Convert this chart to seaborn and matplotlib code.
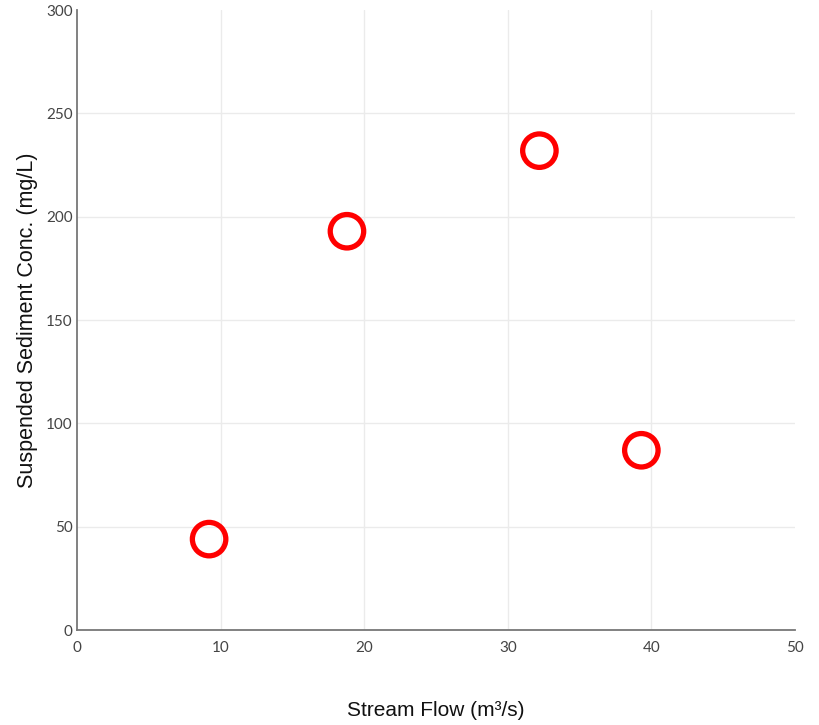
import matplotlib
matplotlib.use("Agg")
import matplotlib.pyplot as plt
import seaborn as sns
import pandas as pd

# Observations: stream flow vs suspended sediment concentration
stream_flow = [9.2, 18.8, 32.2, 39.3]
sediment_conc = [44, 193, 232, 87]

x_ticks = [0, 10, 20, 30, 40, 50]
y_ticks = [0, 50, 100, 150, 200, 250, 300]

df = pd.DataFrame({"flow": stream_flow, "conc": sediment_conc})

sns.set_theme(style="white")
plt.rcParams["font.family"] = ["Liberation Sans", "DejaVu Sans"]

fig = plt.figure(figsize=(8.19, 7.25), dpi=100)
ax = fig.add_axes([0.094, 0.131, 0.8767, 0.855])

sns.scatterplot(data=df, x="flow", y="conc", ax=ax, s=580,
                facecolor="none", edgecolor="#ff0000", linewidth=3.8,
                zorder=3, legend=False)

ax.set_xlim(0, 50)
ax.set_ylim(0, 300)
ax.set_xticks(x_ticks)
ax.set_yticks(y_ticks)
ax.set_xticklabels([str(t) for t in x_ticks], family="Lato", color="#444444", fontsize=11)
ax.set_yticklabels([str(t) for t in y_ticks], family="Lato", color="#444444", fontsize=11)

# light grid on interior ticks only
for t in x_ticks[1:-1]:
    ax.axvline(t, color="#ebebeb", lw=1.0, zorder=0)
for t in y_ticks[1:-1]:
    ax.axhline(t, color="#ebebeb", lw=1.0, zorder=0)

ax.tick_params(axis="x", direction="in", length=7, width=1.2, color="#888888", pad=8)
ax.tick_params(axis="y", length=0, pad=3)
xt = ax.xaxis.get_major_ticks()
xt[0].tick1line.set_visible(False)
xt[-1].tick1line.set_visible(False)

for side in ["top", "right"]:
    ax.spines[side].set_visible(False)
for side in ["left", "bottom"]:
    ax.spines[side].set_color("#777777")
    ax.spines[side].set_linewidth(1.3)

ax.set_xlabel("Stream Flow (m\u00b3/s)", fontsize=15, color="#111111", labelpad=33)
ax.set_ylabel("Suspended Sediment Conc. (mg/L)", fontsize=15.5, color="#111111", labelpad=6)

fig.savefig("out.png", dpi=100)
